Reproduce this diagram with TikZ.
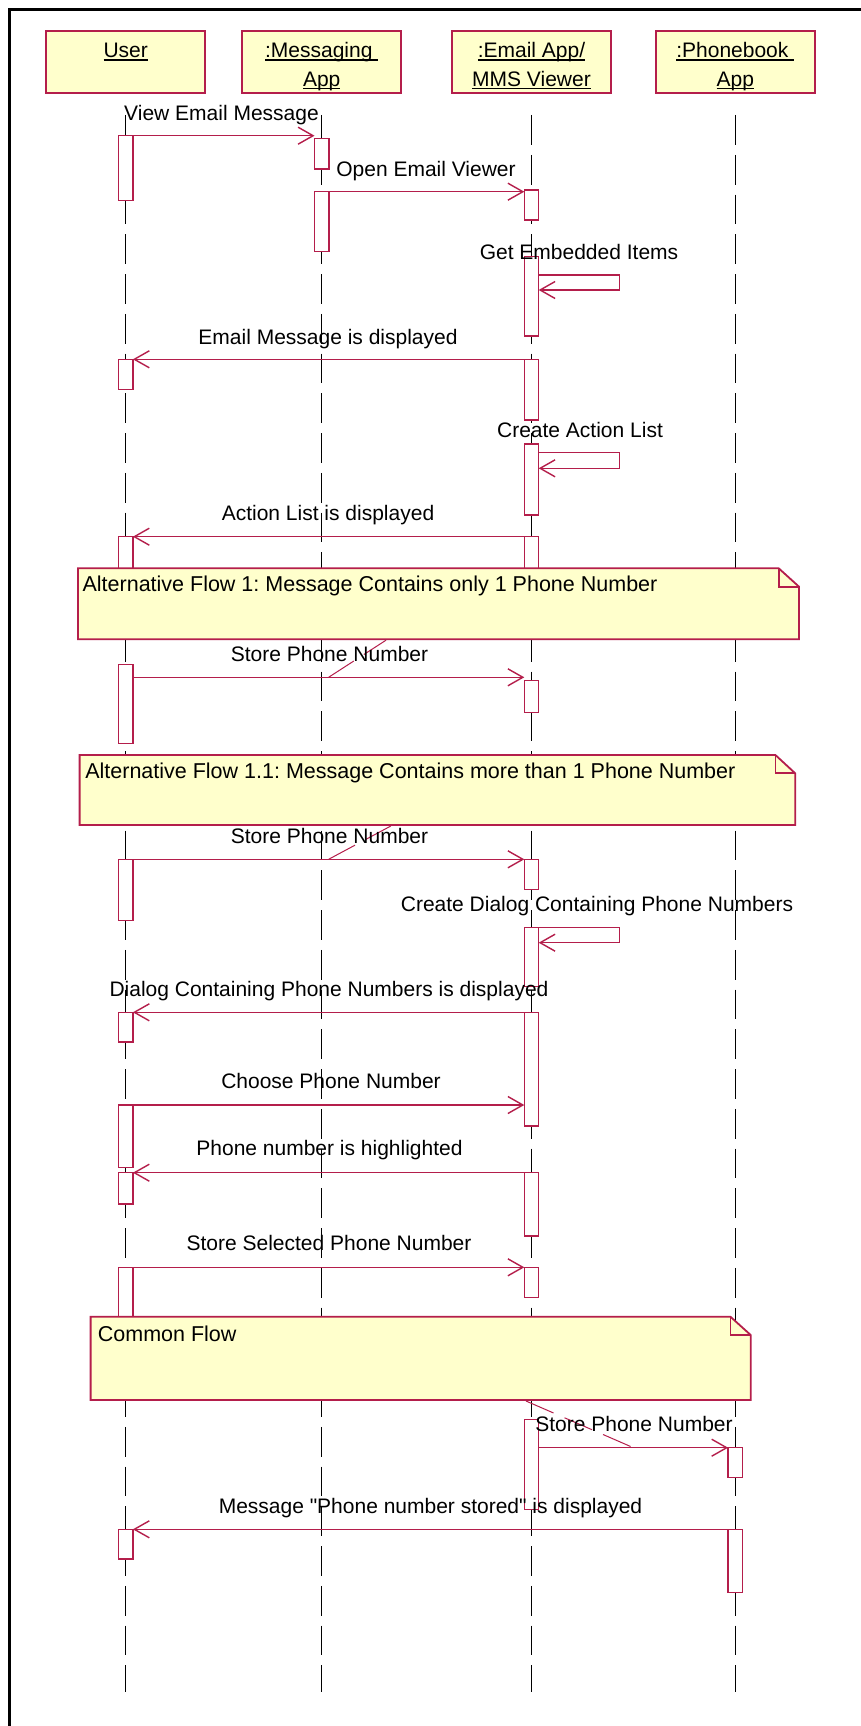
\documentclass[tikz,border=0pt]{standalone}
\usepackage{fontspec}
\setmainfont{Liberation Sans}
\usetikzlibrary{arrows.meta,calc}
\definecolor{crim}{RGB}{180,30,75}
\definecolor{pale}{RGB}{255,255,204}
\newcommand{\ulx}[1]{\setbox0=\hbox{#1}\leavevmode\rlap{\rule[-3pt]{\wd0}{1.5pt}}\box0}
\newcommand{\actbox}[4]{\pgfmathsetmacro{\acth}{#4-#3}\node[act, minimum height=\acth pt] (#1) at (#2,#3) {};}
\frenchspacing
\begin{document}
\begin{tikzpicture}[x=1pt,y=-1pt,
  lbl/.style={font=\fontsize{21}{25}\selectfont, inner sep=0pt, anchor=base},
  lblw/.style={lbl, anchor=base west},
  notetxt/.style={lblw, font=\fontsize{21.5}{25}\selectfont},
  hdr/.style={draw=crim, fill=pale, line width=1.8pt, minimum width=159pt, minimum height=62pt, inner sep=0pt},
  act/.style={draw=crim, fill=white, line width=1.5pt, minimum width=14.4pt, inner sep=0pt, outer sep=0pt, anchor=north},
  msg/.style={draw=crim, line width=1.5pt, -{Straight Barb[length=15pt,width=17pt,line width=1.4pt]}},
  life/.style={draw=black, line width=1.4pt, dash pattern=on 29.75pt off 10pt},
  notebg/.style={draw=crim, fill=pale, line width=1.8pt, line join=miter},
  noteln/.style={draw=crim, line width=1.8pt},
  anchorln/.style={draw=crim, line width=1pt, dash pattern=on 30pt off 12pt},
]
\useasboundingbox (0,0) rectangle (861,1726);
\fill[white] (0,0) rectangle (861,1726);
% frame
\draw[line width=2.5pt] (9.7,1726) -- (9.7,9.5) -- (861,9.5);

% header boxes
\node[hdr] (hU) at (125.7,61.9) {};
\node[hdr] (hM) at (321.7,61.9) {};
\node[hdr] (hE) at (531.5,61.9) {};
\node[hdr] (hP) at (735.3,61.9) {};
\node[lbl] (tU) at (125.7,58) {\ulx{User}};
\node[lbl] (tM1) at (321.7,58) {\ulx{:Messaging\ }};
\node[lbl] (tM2) at (321.7,86.4) {\ulx{App}};
\node[lbl] (tE1) at (531.5,58) {\ulx{:Email App/}};
\node[lbl] (tE2) at (531.5,86.4) {\ulx{MMS Viewer}};
\node[lbl] (tP1) at (735.3,58) {\ulx{:Phonebook\ }};
\node[lbl] (tP2) at (735.3,86.4) {\ulx{App}};

% lifelines
\draw[life] (hU.south |- 0,115) -- (hU.south |- 0,1691.7);
\draw[life] (hM.south |- 0,115) -- (hM.south |- 0,1691.7);
\draw[life] (hE.south |- 0,115) -- (hE.south |- 0,1691.7);
\draw[life] (hP.south |- 0,115) -- (hP.south |- 0,1691.7);

% activations
\actbox{ua1}{125.7}{135.7}{200.7}
\actbox{ua2}{125.7}{359.3}{389.3}
\actbox{ua3}{125.7}{536.7}{580}
\actbox{ua4}{125.7}{664.3}{743.3}
\actbox{ua5}{125.7}{859.3}{920.7}
\actbox{ua6}{125.7}{1012.3}{1042}
\actbox{ua7}{125.7}{1105}{1167.3}
\actbox{ua8}{125.7}{1172.7}{1204}
\actbox{ua9}{125.7}{1267.3}{1330}
\actbox{ua10}{125.7}{1529.3}{1559}
\actbox{ma1}{321.7}{138.3}{169}
\actbox{ma2}{321.7}{191.7}{251.7}
\actbox{ea1}{531.5}{190}{220}
\actbox{ea2}{531.5}{256.7}{336}
\actbox{ea3}{531.5}{359.3}{420}
\actbox{ea4}{531.5}{444}{515}
\actbox{ea5}{531.5}{536.7}{580}
\actbox{ea6}{531.5}{680.7}{712.3}
\actbox{ea7}{531.5}{859.3}{889.3}
\actbox{ea8}{531.5}{927.3}{986.7}
\actbox{ea9}{531.5}{1012.3}{1126}
\actbox{ea10}{531.5}{1172.7}{1236}
\actbox{ea11}{531.5}{1267.3}{1297.3}
\actbox{ea12}{531.5}{1419.3}{1509.3}
\actbox{pa1}{735.3}{1447.7}{1477.3}
\actbox{pa2}{735.3}{1529.3}{1592.3}

% messages
\draw[msg] (ua1.north east) -- (ma1.west |- ua1.north east);
\draw[msg] (ma2.north east) -- (ea1.west |- ma2.north east);
\draw[msg] ([yshift=-18.3pt]ea2.north east) -- ++(81,0) -- ++(0,15) -- ([yshift=-33.3pt]ea2.north east);
\draw[msg] (ea3.north west) -- (ua2.north east);
\draw[msg] ([yshift=-8.3pt]ea4.north east) -- ++(81,0) -- ++(0,16) -- ([yshift=-24.3pt]ea4.north east);
\draw[msg] (ea5.north west) -- (ua3.north east);
\coordinate (m7) at ([yshift=-13pt]ua4.north east);
\draw[msg] (m7) -- (ea6.west |- m7);
\draw[msg] (ua5.north east) -- (ea7.north west);
\draw[msg] (ea8.north east) -- ++(81,0) -- ++(0,15.4) -- ([yshift=-15.4pt]ea8.north east);
\draw[msg] (ea9.north west) -- (ua6.north east);
\draw[msg] (ua7.north east) -- (ea9.west |- ua7.north east);
\draw[msg] (ea10.north west) -- (ua8.north east);
\draw[msg] (ua9.north east) -- (ea11.north west);
\coordinate (m14) at ([yshift=-28.4pt]ea12.north east);
\draw[msg] (m14) -- (pa1.north west);
\draw[msg] (pa2.north west) -- (ua10.north east);

% notes
\draw[notebg] (78,568.3) -- (778.7,568.3) -- (799,586.7) -- (799,639.3) -- (78,639.3) -- cycle;
\draw[noteln] (778.7,568.3) -- (778.7,586.7) -- (799,586.7);
\draw[notebg] (79.6,755) -- (775.4,755) -- (795.2,773.3) -- (795.2,825) -- (79.6,825) -- cycle;
\draw[noteln] (775.4,755) -- (775.4,773.3) -- (795.2,773.3);
\draw[notebg] (90.6,1316.7) -- (730.4,1316.7) -- (750.7,1335) -- (750.7,1400) -- (90.6,1400) -- cycle;
\draw[noteln] (730.4,1316.7) -- (730.4,1335) -- (750.7,1335);
\coordinate (n1b) at (386,640.2);
\coordinate (n2b) at (391,825.9);
\coordinate (n3b) at (526,1401);

% note anchors
\coordinate (k1) at ($(m7)!0.5!(ea6.west |- m7)$);
\coordinate (k2) at ($(ua5.north east)!0.5!(ea7.north west)$);
\coordinate (k3) at ($(m14)!0.5!(pa1.north west)$);
\draw[anchorln] (k1) -- (n1b);
\draw[anchorln] (k2) -- (n2b);
\draw[anchorln] (n3b) -- (k3);

% labels
\node[lbl] (l1) at (221.5,121) {View Email Message};
\node[lbl] (l2) at (426,176) {Open Email Viewer};
\node[lbl] (l3) at (579,259) {Get Embedded Items};
\node[lbl] (l4) at (328,344) {Email Message is displayed};
\node[lbl] (l5) at (580,437) {Create Action List};
\node[lbl] (l6) at (328,520) {Action List is displayed};
\node[notetxt] (nt1) at (82.4,591.4) {Alternative Flow 1: Message Contains only 1 Phone Number};
\node[lbl] (l7) at (329.5,661) {Store Phone Number};
\node[notetxt] (nt2) at (85.1,778) {Alternative Flow 1.1: Message Contains more than 1 Phone Number};
\node[lbl] (l8) at (329.5,843) {Store Phone Number};
\node[lbl] (l9) at (597,911.5) {Create Dialog Containing Phone Numbers};
\node[lbl] (l10) at (329,996.5) {Dialog Containing Phone Numbers is displayed};
\node[lbl] (l11) at (331,1088) {Choose Phone Number};
\node[lbl] (l12) at (329.5,1155) {Phone number is highlighted};
\node[lbl] (l13) at (329,1250) {Store Selected Phone Number};
\node[notetxt] (nt3) at (97.7,1341.5) {Common Flow};
\node[lbl] (l14) at (634,1431.5) {Store Phone Number};
\node[lbl] (l15) at (430.5,1513) {Message \textquotedbl Phone number stored\textquotedbl{} is displayed};
\end{tikzpicture}
\end{document}
